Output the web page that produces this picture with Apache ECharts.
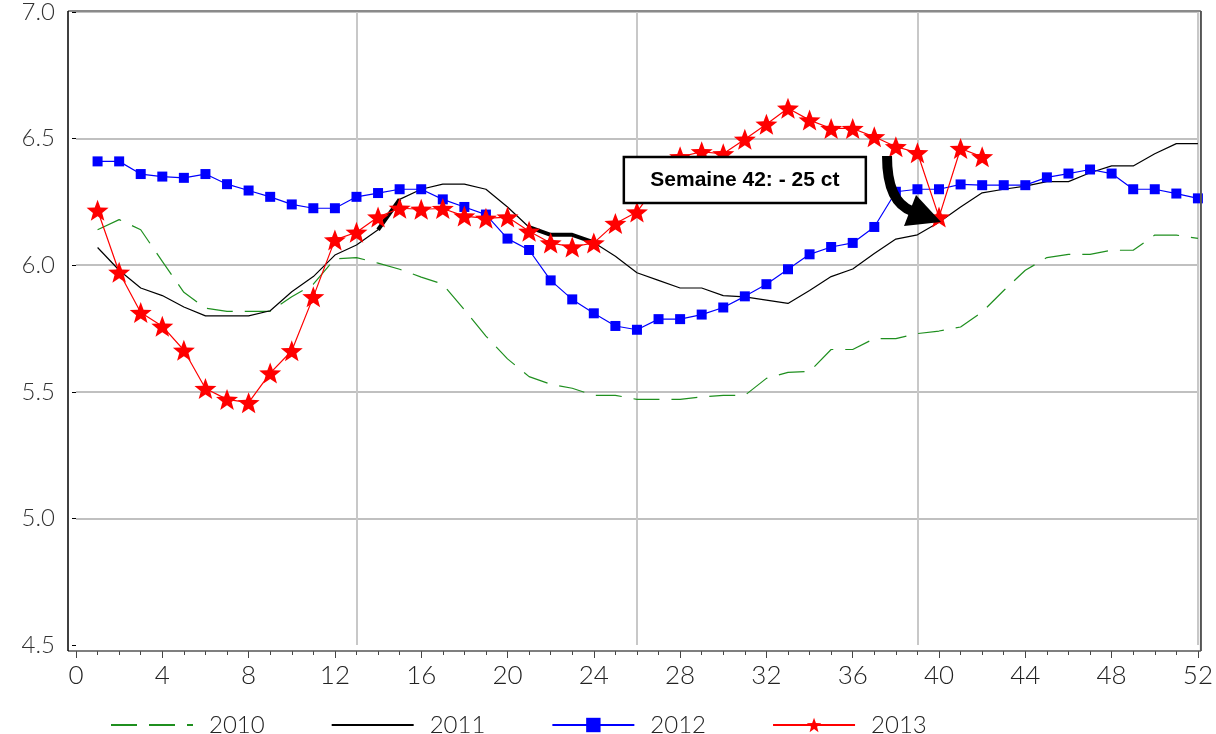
<!DOCTYPE html>
<html>
<head>
<meta charset="utf-8">
<script src="https://cdn.jsdelivr.net/npm/echarts@6/dist/echarts.min.js"></script>
<style>
html, body { margin: 0; padding: 0; background: #fff; }
#pic { width: 1216px; height: 734px; }
</style>
</head>
<body>
<div id="pic"></div>
<script>
var weeks = [1, 2, 3, 4, 5, 6, 7, 8, 9, 10, 11, 12, 13, 14, 15, 16, 17, 18, 19, 20, 21, 22, 23, 24, 25, 26,
    27, 28, 29, 30, 31, 32, 33, 34, 35, 36, 37, 38, 39, 40, 41, 42, 43, 44, 45, 46, 47, 48, 49, 50, 51, 52];

var y2010 = [6.14, 6.18, 6.14, 6.015, 5.893, 5.83, 5.818, 5.818, 5.818, 5.875, 5.925, 6.025, 6.03,
    6.008, 5.984, 5.953, 5.925, 5.824, 5.72, 5.63, 5.56, 5.53, 5.514, 5.486, 5.486, 5.47,
    5.47, 5.47, 5.48, 5.486, 5.486, 5.553, 5.577, 5.58, 5.667, 5.667, 5.71, 5.71, 5.73,
    5.74, 5.756, 5.815, 5.9, 5.98, 6.03, 6.043, 6.043, 6.059, 6.059, 6.119, 6.119, 6.106];

var y2011 = [6.07, 5.98, 5.91, 5.88, 5.835, 5.8, 5.8, 5.8, 5.82, 5.895, 5.955, 6.04, 6.08,
    6.14, 6.26, 6.3, 6.32, 6.32, 6.3, 6.23, 6.15, 6.12, 6.12, 6.09, 6.035, 5.97,
    5.94, 5.91, 5.91, 5.88, 5.875, 5.862, 5.849, 5.9, 5.955, 5.985, 6.046, 6.103, 6.12,
    6.17, 6.23, 6.286, 6.3, 6.312, 6.33, 6.33, 6.365, 6.392, 6.392, 6.44, 6.48, 6.48];

var y2012 = [6.41, 6.41, 6.36, 6.35, 6.345, 6.36, 6.32, 6.295, 6.27, 6.24, 6.225, 6.225, 6.27,
    6.285, 6.3, 6.3, 6.26, 6.23, 6.2, 6.105, 6.06, 5.94, 5.865, 5.81, 5.76, 5.745,
    5.787, 5.787, 5.805, 5.833, 5.877, 5.925, 5.984, 6.043, 6.072, 6.088, 6.151, 6.29, 6.3,
    6.3, 6.319, 6.316, 6.316, 6.316, 6.347, 6.362, 6.378, 6.362, 6.3, 6.3, 6.283, 6.264];

var y2013 = [6.217, 5.972, 5.813, 5.759, 5.664, 5.513, 5.47, 5.457, 5.574, 5.662, 5.875, 6.1, 6.13,
    6.19, 6.225, 6.221, 6.224, 6.194, 6.185, 6.19, 6.134, 6.088, 6.072, 6.088, 6.165, 6.21,
    6.33, 6.428, 6.448, 6.44, 6.497, 6.557, 6.62, 6.573, 6.54, 6.54, 6.507, 6.468, 6.444,
    6.19, 6.461, 6.428];

var names = ['2010', '2011', '2012', '2013'];
var yTicks = [4.5, 5.0, 5.5, 6.0, 6.5, 7.0];
// weeks where the 2011 line is drawn bold in the original
var bold2011 = [14, 15, 21, 22, 23, 24];
var noteText = 'Semaine 42: - 25 ct';
var noteWeek = 40;

var star = 'path://M50,0L62.3,33L97.6,34.5L70,56.8L79.4,90.5L50,71L20.6,90.5L30,56.8L2.4,34.5L37.7,33Z';
var axisFont = 'Lato';

function pairs(vals) {
    var out = [];
    for (var i = 0; i < vals.length; i++) {
        out.push([weeks[i], vals[i]]);
    }
    return out;
}

function boldPart() {
    var out = [];
    for (var i = 0; i < y2011.length; i++) {
        out.push([weeks[i], bold2011.indexOf(weeks[i]) >= 0 ? y2011[i] : null]);
    }
    return out;
}

var noMarker = { color: 'rgba(0,0,0,0)', borderWidth: 0 };

var myChart = echarts.init(document.getElementById('pic'));
var option = {
    animation: false,
    backgroundColor: '#fff',
    grid: { left: 76, right: 17, top: 11, bottom: 89 },
    legend: {
        data: [
            { name: names[0], itemStyle: noMarker },
            { name: names[1], itemStyle: noMarker },
            { name: names[2] },
            { name: names[3] }
        ],
        left: 105,
        top: 708,
        itemWidth: 82,
        itemHeight: 18,
        itemGap: 66,
        textStyle: {
            fontFamily: axisFont,
            fontWeight: 300,
            fontSize: 24,
            color: '#222',
            padding: [0, 0, 0, 11]
        }
    },
    xAxis: [{
        type: 'value',
        min: 0,
        max: 52,
        interval: 4,
        offset: 6,
        axisLine: { show: false },
        axisTick: { show: true, length: 7, lineStyle: { color: '#444', width: 1 } },
        minorTick: { show: true, splitNumber: 4, length: 4, lineStyle: { color: '#444', width: 1 } },
        axisLabel: { fontFamily: axisFont, fontWeight: 300, fontSize: 26, color: '#222', margin: 12 },
        splitLine: { show: false }
    }, {
        type: 'value',
        min: 0,
        max: 52,
        interval: 13,
        position: 'top',
        axisLine: { show: false },
        axisTick: { show: false },
        axisLabel: { show: false },
        splitLine: { show: true, showMinLine: false, lineStyle: { color: '#c8c8c8', width: 2 } }
    }],
    yAxis: {
        type: 'value',
        min: yTicks[0],
        max: yTicks[yTicks.length - 1],
        interval: 0.5,
        offset: 8,
        axisLine: { show: false },
        axisTick: { show: true, length: 4, lineStyle: { color: '#000' } },
        axisLabel: {
            fontFamily: axisFont,
            fontWeight: 300,
            fontSize: 24,
            color: '#333',
            margin: 13,
            formatter: function (v) { return v.toFixed(1); }
        },
        splitLine: { show: true, showMinLine: false, lineStyle: { color: '#ababab', width: 1.5 } }
    },
    series: [{
        name: names[0],
        type: 'line',
        data: pairs(y2010),
        symbol: 'none',
        lineStyle: { color: '#1f8f1f', width: 1.2, type: [26, 12] },
        itemStyle: { color: '#1f8f1f' },
        z: 2
    }, {
        name: names[1],
        type: 'line',
        data: pairs(y2011),
        symbol: 'none',
        lineStyle: { color: '#000', width: 1.2 },
        itemStyle: { color: '#000' },
        z: 3
    }, {
        name: '2011 gras',
        type: 'line',
        data: boldPart(),
        symbol: 'none',
        connectNulls: false,
        lineStyle: { color: '#000', width: 4 },
        z: 3
    }, {
        name: names[2],
        type: 'line',
        data: pairs(y2012),
        symbol: 'rect',
        symbolSize: 10,
        lineStyle: { color: '#0000ff', width: 1.2 },
        itemStyle: { color: '#0000ff' },
        z: 4
    }, {
        name: names[3],
        type: 'line',
        data: pairs(y2013),
        symbol: star,
        symbolSize: [22, 21],
        lineStyle: { color: '#ff0000', width: 1.2 },
        itemStyle: { color: '#ff0000' },
        z: 5
    }]
};
myChart.setOption(option);

// frame, annotation box and arrow, placed from the grid scales
function drawExtras() {
    var tl = myChart.convertToPixel({ gridIndex: 0 }, [0, 7.0]);
    var br = myChart.convertToPixel({ gridIndex: 0 }, [52, 4.5]);
    var L = tl[0] - 8, T = tl[1] - 1, R = br[0] + 3, B = br[1] + 6;

    var p = myChart.convertToPixel({ gridIndex: 0 }, [noteWeek, y2013[noteWeek - 1]]);
    var tip = [p[0] + 2, p[1] + 5];
    var c = myChart.convertToPixel({ gridIndex: 0 }, [31, 6.336]);
    var bw = 242, bh = 46;

    myChart.setOption({
        graphic: [
            { type: 'line', z: 50, shape: { x1: L, y1: T, x2: R, y2: T }, style: { stroke: '#8a8a8a', lineWidth: 2 } },
            { type: 'line', z: 50, shape: { x1: R, y1: T, x2: R, y2: B }, style: { stroke: '#555', lineWidth: 2 } },
            { type: 'line', z: 50, shape: { x1: L, y1: B, x2: R, y2: B }, style: { stroke: '#555', lineWidth: 1.5 } },
            { type: 'line', z: 50, shape: { x1: L, y1: T, x2: L, y2: B }, style: { stroke: '#000', lineWidth: 1.5 } },
            {
                type: 'rect', z: 60,
                shape: { x: c[0] - bw / 2, y: c[1] - bh / 2, width: bw, height: bh },
                style: { fill: '#fff', stroke: '#000', lineWidth: 2.5 }
            },
            {
                type: 'text', z: 61,
                x: c[0], y: c[1],
                style: {
                    text: noteText,
                    fontFamily: 'Liberation Sans',
                    fontWeight: 'bold',
                    fontSize: 21,
                    fill: '#000',
                    align: 'center',
                    verticalAlign: 'middle'
                }
            },
            {
                type: 'bezierCurve', z: 60,
                shape: {
                    x1: tip[0] - 54, y1: tip[1] - 66,
                    cpx1: tip[0] - 54, cpy1: tip[1] - 20,
                    x2: tip[0] - 29, y2: tip[1] - 11
                },
                style: { stroke: '#000', lineWidth: 10, fill: null }
            },
            {
                type: 'polygon', z: 60,
                shape: { points: [[tip[0], tip[1]], [tip[0] - 37, tip[1] + 4], [tip[0] - 25, tip[1] - 27]] },
                style: { fill: '#000' }
            }
        ]
    });
}
drawExtras();
</script>
</body>
</html>
